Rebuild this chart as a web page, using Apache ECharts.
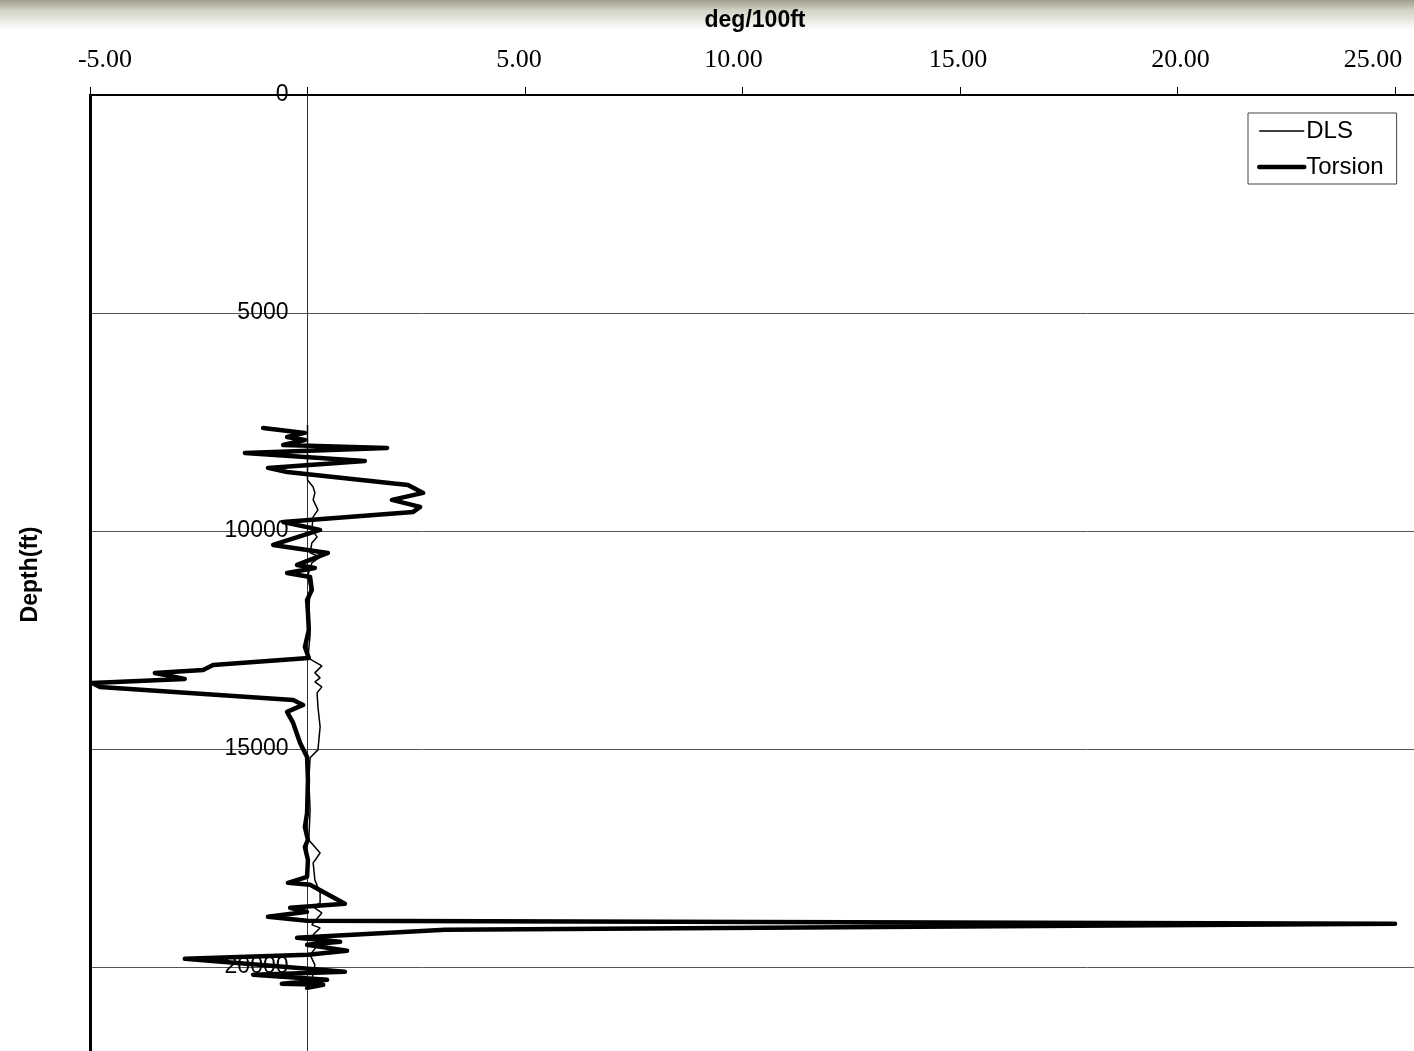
<!DOCTYPE html>
<html>
<head>
<meta charset="utf-8">
<title>DLS and Torsion vs Depth</title>
<script src="https://cdn.jsdelivr.net/npm/echarts@6/dist/echarts.min.js"></script>
<style>
  html, body { margin: 0; padding: 0; background: #ffffff; overflow: hidden; }
  #chart { width: 1440px; height: 1070px; }
</style>
</head>
<body>
<div id="chart"></div>
<script>
// Survey data: depth (ft) and rate (deg/100ft)
const torsionDepth = [
  7638, 7752, 7844, 7913, 8028, 8096, 8211, 8394, 8555, 8647,
  8945, 9128, 9289, 9450, 9564, 9794, 9977, 10321, 10505, 10780,
  10849, 10964, 11056, 11354, 11584, 11882, 12272, 12662, 12914, 13075,
  13189, 13258, 13395, 13487, 13579, 13877, 13992, 14152, 14405, 14865,
  15186, 15714, 16471, 16792, 17090, 17250, 17548, 17938, 18073, 18119,
  18555, 18647, 18739, 18853, 18945, 19014, 19151, 19335, 19427, 19496,
  19633, 19725, 19817, 20115, 20183, 20298, 20390, 20413, 20481
];
const torsionValue = [
  -1.02, -0.06, -0.47, -0.06, -0.56, 1.83, -1.44, 1.32, -0.91, -0.47,
  2.31, 2.66, 1.94, 2.59, 2.43, -0.56, 0.29, -0.79, 0.47, -0.24,
  0.17, -0.47, 0.06, 0.10, -0.01, 0.01, 0.03, -0.06, 0.03, -2.17,
  -2.40, -3.51, -2.82, -4.95, -4.77, -0.33, -0.10, -0.47, -0.33, -0.17,
  -0.01, 0.01, -0.01, -0.06, 0.01, -0.06, 0.01, -0.01, -0.45, 0.06,
  0.86, -0.40, -0.01, -0.91, -0.01, 25.00, 3.16, -0.24, 0.75, -0.01,
  0.91, 0.01, -2.82, 0.86, -1.25, 0.45, -0.59, 0.36, -0.01
];

const dlsDepth = [
  7569, 8830, 8991, 9128, 9289, 9518, 9679, 9977, 10138, 10276,
  10505, 10597, 10735, 11010, 11354, 11813, 12387, 12914, 13096, 13257,
  13371, 13463, 13578, 13716, 14037, 14495, 15023, 15206, 15714, 16402,
  17090, 17388, 17617, 18007, 18305, 18534, 18626, 18763, 19037, 19106,
  19266, 19496, 19725, 19954, 20298, 20481
];
const dlsValue = [
  0.00, 0.00, 0.13, 0.17, 0.13, 0.24, 0.13, 0.10, 0.22, 0.10,
  0.06, 0.29, 0.10, 0.01, 0.06, 0.03, 0.06, 0.01, 0.33, 0.17,
  0.29, 0.17, 0.33, 0.22, 0.24, 0.29, 0.24, 0.06, 0.03, 0.06,
  0.03, 0.29, 0.13, 0.17, 0.29, 0.29, 0.13, 0.33, 0.10, 0.29,
  0.13, 0.24, 0.06, 0.17, 0.10, 0.00
];

const xTicks = [-5, 0, 5, 10, 15, 20, 25];
const depthTicks = [0, 5000, 10000, 15000, 20000];

const pairs = (xs, ds) => xs.map((v, i) => [v, ds[i]]);

const sans = 'Liberation Sans, Arial, sans-serif';
const serif = 'Liberation Serif, Times New Roman, serif';

// Horizontal nudges for the top tick labels (rich-text padding keys)
const xLabelStyleKey = { '-5': 'r30', '5': 'l12', '10': 'l18', '15': 'l4', '20': 'r6', '25': 'l44' };
const xLabelRich = {
  r30: { padding: [0, 0, 0, 30] },
  r6: { padding: [0, 0, 0, 6] },
  l4: { padding: [0, 4, 0, 0] },
  l12: { padding: [0, 12, 0, 0] },
  l18: { padding: [0, 18, 0, 0] },
  l44: { padding: [0, 44, 0, 0] }
};

const chart = echarts.init(document.getElementById('chart'), null, { renderer: 'canvas' });

chart.setOption({
  backgroundColor: '#ffffff',
  animation: false,
  graphic: [{
    type: 'rect',
    silent: true,
    z: -10,
    shape: { x: 0, y: 0, width: 1440, height: 30 },
    style: {
      fill: new echarts.graphic.LinearGradient(0, 0, 0, 1, [
        { offset: 0, color: '#9f9f8c' },
        { offset: 0.35, color: '#d2d2c6' },
        { offset: 1, color: '#ffffff' }
      ])
    }
  }],
  grid: { left: 90, top: 95, right: 20, bottom: 16, containLabel: false },
  legend: {
    orient: 'vertical',
    left: 1248,
    top: 113,
    backgroundColor: '#ffffff',
    borderColor: '#444444',
    borderWidth: 1,
    borderRadius: 0,
    padding: [6, 13, 5, 9],
    itemWidth: 45,
    itemHeight: 14,
    itemGap: 12,
    itemStyle: { opacity: 0 },
    lineStyle: { width: 'inherit' },
    textStyle: { fontFamily: sans, fontSize: 24, color: '#000000', padding: [0, 0, 0, -3] },
    data: ['DLS', 'Torsion']
  },
  xAxis: {
    type: 'value',
    position: 'top',
    min: -5,
    max: 25.575,
    interval: 5,
    name: 'deg/100ft',
    nameLocation: 'middle',
    nameGap: 63,
    nameTextStyle: { fontFamily: sans, fontSize: 23, fontWeight: 'bold', color: '#000000' },
    axisLine: { onZero: false, lineStyle: { color: '#000000', width: 2 } },
    axisTick: { show: true, length: 8, lineStyle: { color: '#000000', width: 1 } },
    axisLabel: {
      margin: 22,
      fontFamily: serif,
      fontSize: 26,
      color: '#000000',
      rich: xLabelRich,
      formatter: v => {
        if (v === 0 || !xTicks.includes(v)) return '';
        const key = xLabelStyleKey[String(v)];
        return key ? `{${key}|${v.toFixed(2)}}` : v.toFixed(2);
      }
    },
    splitLine: { show: false }
  },
  yAxis: [{
    // depth scale drawn along the zero line of the rate axis
    type: 'value',
    position: 'left',
    offset: -217.5,
    inverse: true,
    min: 0,
    max: 22000,
    interval: 5000,
    axisLine: { onZero: false, lineStyle: { color: '#333333', width: 1 } },
    axisTick: { show: false },
    axisLabel: {
      margin: 19,
      padding: [4, 0, 0, 0],
      fontFamily: sans,
      fontSize: 23,
      color: '#000000',
      formatter: v => depthTicks.includes(v) ? String(v) : ''
    },
    splitLine: { show: true, lineStyle: { color: '#555555', width: 1 } }
  }, {
    type: 'value',
    position: 'left',
    inverse: true,
    min: 0,
    max: 22000,
    interval: 5000,
    name: 'Depth(ft)',
    nameLocation: 'middle',
    nameRotate: 90,
    nameGap: 48,
    nameTextStyle: { fontFamily: sans, fontSize: 23, fontWeight: 'bold', color: '#000000' },
    axisLine: { onZero: false, lineStyle: { color: '#000000', width: 3 } },
    axisTick: { show: false },
    axisLabel: { show: false },
    splitLine: { show: false }
  }],
  series: [{
    name: 'Torsion',
    type: 'line',
    yAxisIndex: 0,
    symbol: 'none',
    z: 3,
    lineStyle: { color: '#000000', width: 4.5, join: 'round', cap: 'round' },
    itemStyle: { color: '#000000' },
    data: pairs(torsionValue, torsionDepth)
  }, {
    name: 'DLS',
    type: 'line',
    yAxisIndex: 0,
    symbol: 'none',
    z: 4,
    lineStyle: { color: '#000000', width: 1.5 },
    itemStyle: { color: '#000000' },
    data: pairs(dlsValue, dlsDepth)
  }]
});
</script>
</body>
</html>
